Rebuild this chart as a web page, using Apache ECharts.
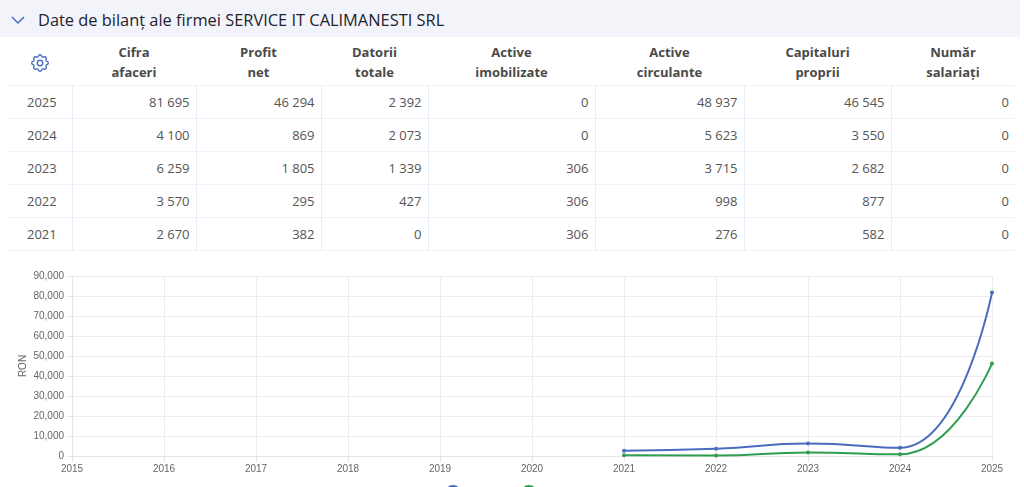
<!DOCTYPE html>
<html>
<head>
<meta charset="utf-8">
<script src="https://cdn.jsdelivr.net/npm/echarts@6/dist/echarts.min.js"></script>
<style>
  html, body { margin:0; padding:0; width:1024px; height:487px; overflow:hidden; background:#fff; }
  #hdr { position:absolute; left:0; top:0; width:1020px; height:37px; background:#f3f4fa; }
  #hdr .t { position:absolute; left:38px; top:8px; font-family:'Open Sans','Noto Sans',sans-serif; font-size:16.4px; color:#1f2330; white-space:nowrap; }
  #hdr svg { position:absolute; left:10px; top:14px; }
  #tbl { position:absolute; left:8px; top:38px; border-collapse:collapse; font-family:'Open Sans','Noto Sans',sans-serif; font-size:13px; color:#555; table-layout:fixed; }
  #tbl th { font-weight:700; color:#4a4a4a; height:47px; line-height:20px; padding:0; text-align:center; vertical-align:middle; border-bottom:1px solid #eef2f6; }
  #tbl td { height:32px; padding:0 6px 0 0; text-align:right; border-bottom:1px solid #eef2f6; border-left:1px solid #e2edf8; }
  #tbl td.y { text-align:left; padding-left:19px; border-left:none; }
  #gear { position:absolute; left:29px; top:52px; }
  #chart { position:absolute; left:0; top:262px; width:1024px; height:260px; }
</style>
</head>
<body>
<div id="hdr">
  <svg width="16" height="12" viewBox="0 0 16 12"><polyline points="2,3 8,9 14,3" fill="none" stroke="#4a6cc0" stroke-width="1.5"/></svg>
  <div class="t">Date de bilanț ale firmei SERVICE IT CALIMANESTI SRL</div>
</div>
<svg id="gear" width="22" height="22" viewBox="0 0 24 24" fill="none" stroke="#4a6cc0" stroke-width="1.5" stroke-linecap="round" stroke-linejoin="round">
  <path d="M10.3 4.3c.4-1.8 3-1.8 3.4 0a1.7 1.7 0 0 0 2.6 1.1c1.5-.9 3.3.8 2.4 2.4a1.7 1.7 0 0 0 1 2.5c1.8.4 1.8 3 0 3.4a1.7 1.7 0 0 0-1 2.6c.9 1.5-.9 3.300-2.4 2.4a1.7 1.7 0 0 0-2.6 1c-.4 1.8-3 1.8-3.4 0a1.7 1.7 0 0 0-2.6-1c-1.5.9-3.3-.9-2.4-2.4a1.7 1.7 0 0 0-1-2.6c-1.8-.4-1.8-3 0-3.4a1.7 1.7 0 0 0 1-2.5c-.9-1.6.9-3.3 2.4-2.4 1 .6 2.300.1 2.6-1.1z"/>
  <circle cx="12" cy="12" r="3"/>
</svg>
<table id="tbl"></table>
<div id="chart"></div>
<script>
// ---- data ----
const headers = ["Cifra<br>afaceri","Profit<br>net","Datorii<br>totale","Active<br>imobilizate","Active<br>circulante","Capitaluri<br>proprii","Număr<br>salariați"];
const tableYears = ["2025","2024","2023","2022","2021"];
const cifraAfaceri = [81695, 4100, 6259, 3570, 2670];
const profitNet = [46294, 869, 1805, 295, 382];
const datoriiTotale = [2392, 2073, 1339, 427, 0];
const activeImobilizate = [0, 0, 306, 306, 306];
const activeCirculante = [48937, 5623, 3715, 998, 276];
const capitaluriProprii = [46545, 3550, 2682, 877, 582];
const numarSalariati = [0, 0, 0, 0, 0];

const chartYears = ["2015","2016","2017","2018","2019","2020","2021","2022","2023","2024","2025"];
const seriesCifra = [null, null, null, null, null, null, 2670, 3570, 6259, 4100, 81695];
const seriesProfit = [null, null, null, null, null, null, 382, 295, 1805, 869, 46294];
const yTicks = [0, 10000, 20000, 30000, 40000, 50000, 60000, 70000, 80000, 90000];

// ---- table ----
const colWidths = [64, 124, 125, 107, 167, 149, 147, 124];
const cols = [cifraAfaceri, profitNet, datoriiTotale, activeImobilizate, activeCirculante, capitaluriProprii, numarSalariati];
const fmt = v => String(v).replace(/\B(?=(\d{3})+(?!\d))/g, ' ');
let html = '<colgroup>' + colWidths.map(w => '<col style="width:' + w + 'px">').join('') + '</colgroup>';
html += '<tr><th></th>' + headers.map(h => '<th>' + h + '</th>').join('') + '</tr>';
tableYears.forEach((y, i) => {
  html += '<tr><td class="y">' + y + '</td>' + cols.map(c => '<td>' + fmt(c[i]) + '</td>').join('') + '</tr>';
});
document.getElementById('tbl').innerHTML = html;

// ---- chart ----
const blue = '#4a6cc0', green = '#2f9e50';
const chart = echarts.init(document.getElementById('chart'));
const axisFont = { fontFamily: 'Liberation Sans, Arial, sans-serif', fontSize: 10, color: '#666' };
chart.setOption({
  animation: false,
  grid: { left: 72, right: 32, top: 14, bottom: 66 },
  legend: {
    show: true,
    data: [{ name: 'Cifra afaceri', icon: 'emptyCircle' }, { name: 'Profit net', icon: 'emptyCircle' }],
    left: 440, top: 218, itemWidth: 14, itemHeight: 14, itemGap: 2, textStyle: axisFont
  },
  xAxis: {
    type: 'category', data: chartYears, boundaryGap: false,
    axisLine: { lineStyle: { color: '#e5e5e5' } },
    axisTick: { show: true, length: 5, lineStyle: { color: '#e5e5e5' } },
    axisLabel: Object.assign({ margin: 8 }, axisFont),
    splitLine: { show: true, lineStyle: { color: '#ececec' } }
  },
  yAxis: {
    type: 'value', min: yTicks[0], max: yTicks[yTicks.length - 1], interval: yTicks[1] - yTicks[0],
    name: 'RON', nameLocation: 'middle', nameGap: 44, nameRotate: 90, nameMoveOverlap: false,
    nameTextStyle: axisFont,
    axisLine: { show: true, lineStyle: { color: '#e5e5e5' } },
    axisTick: { show: true, length: 5, lineStyle: { color: '#e5e5e5' } },
    axisLabel: Object.assign({ margin: 8, formatter: v => v.toLocaleString('en-US') }, axisFont),
    splitLine: { lineStyle: { color: '#ececec' } }
  },
  series: [
    { name: 'Cifra afaceri', type: 'line', data: seriesCifra, smooth: 0.5, connectNulls: false,
      symbol: 'circle', symbolSize: 4, itemStyle: { color: blue }, lineStyle: { color: blue, width: 2 } },
    { name: 'Profit net', type: 'line', data: seriesProfit, smooth: 0.5, connectNulls: false,
      symbol: 'circle', symbolSize: 4, itemStyle: { color: green }, lineStyle: { color: green, width: 2 } }
  ]
});
</script>
</body>
</html>
